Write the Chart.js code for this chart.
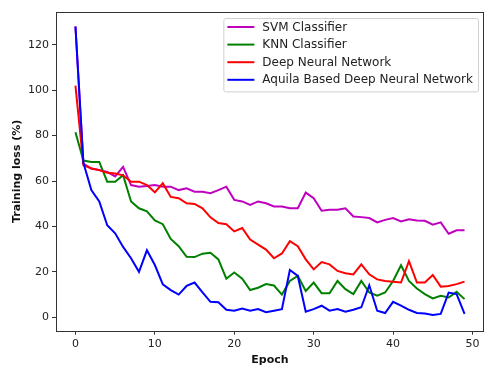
<!DOCTYPE html>
<html>
<head>
<meta charset="utf-8">
<script src="https://cdn.jsdelivr.net/npm/chart.js@4/dist/chart.umd.min.js"></script>
<style>
  html, body { margin: 0; padding: 0; background: #fff; }
  #wrap { width: 489px; height: 367px; position: relative; }
</style>
</head>
<body>
<div id="wrap"><canvas id="chart"></canvas></div>
<script>
// training loss per epoch for each model
const epochs = [0, 1, 2, 3, 4, 5, 6, 7, 8, 9, 10, 11, 12, 13, 14, 15, 16, 17, 18, 19,
  20, 21, 22, 23, 24, 25, 26, 27, 28, 29, 30, 31, 32, 33, 34, 35, 36, 37, 38, 39,
  40, 41, 42, 43, 44, 45, 46, 47, 48, 49];

const svmLoss = [128, 67.7, 65.5, 64.8, 64, 62, 66.2, 58.2, 57.5, 57.8,
  58.2, 57.5, 57.5, 56, 56.8, 55.3, 55.3, 54.6, 56, 57.5,
  51.7, 51, 49.5, 51, 50.2, 48.8, 48.8, 48, 48, 54.9,
  52.4, 46.9, 47.3, 47.3, 48, 44.4, 44.1, 43.7, 41.8, 42.9,
  43.7, 42.2, 43.2, 42.6, 42.5, 40.8, 41.8, 36.8, 38.3, 38.3];

const knnLoss = [81.5, 69, 68.4, 68.4, 59.7, 59.7, 62.5, 51, 48, 46.6,
  42.6, 41, 34.5, 31.3, 26.6, 26.5, 28, 28.4, 25.5, 17,
  19.7, 17, 12, 13, 14.6, 14, 10, 16, 18.2, 11.6,
  15.3, 10.6, 10.6, 16, 12.4, 10.2, 16, 10.9, 9.5, 10.9,
  16, 22.9, 16, 12.7, 10.2, 8.3, 9.5, 8.7, 11.2, 8];

const dnnLoss = [102, 67, 65.5, 64.8, 63.6, 63.3, 62.5, 59.7, 59.7, 58.2,
  55, 59, 53, 52.4, 50.2, 49.9, 48, 44, 41.5, 41,
  37.8, 39.3, 34.2, 32, 29.8, 26, 28.1, 33.5, 31.3, 25.5,
  21.1, 24.3, 23.3, 20.4, 19.4, 18.9, 23.3, 18.9, 16.7, 16,
  15.6, 15.3, 24.7, 15.3, 15.3, 18.6, 13.5, 13.8, 14.6, 15.7];

const aquilaLoss = [128, 68, 56, 51, 40.5, 37, 31, 26, 20, 29.5,
  23, 14.5, 12, 10, 13.8, 15.3, 11, 6.8, 6.6, 3.3,
  2.9, 3.9, 2.9, 3.6, 2.2, 2.9, 3.6, 20.8, 18.2, 2.5,
  3.6, 5.1, 2.9, 3.6, 2.5, 3.3, 4.4, 14.1, 2.9, 1.9,
  6.8, 5.1, 3.3, 1.9, 1.7, 1.0, 1.5, 10.9, 10.2, 1.5];

const seriesNames = ["SVM Classifier", "KNN Classifier", "Deep Neural Network", "Aquila Based Deep Neural Network"];
const seriesColors = ["#bf00bf", "#008000", "#ff0000", "#0000ff"];
const xTicks = [0, 10, 20, 30, 40, 50];
const yTicks = [0, 20, 40, 60, 80, 100, 120];

const FONT = "'DejaVu Sans', sans-serif";

function toPoints(values) {
  return epochs.map((e, i) => ({ x: e, y: values[i] }));
}

const data = {
  datasets: [svmLoss, knnLoss, dnnLoss, aquilaLoss].map((vals, i) => ({
    label: seriesNames[i],
    data: toPoints(vals),
    borderColor: seriesColors[i],
    backgroundColor: seriesColors[i],
    borderWidth: 2,
    pointRadius: 0,
    tension: 0,
    fill: false,
    order: 3 - i   // later series painted on top
  }))
};

// box around the plot + legend in the upper right corner
const frameLegend = {
  id: "frameLegend",
  afterDatasetsDraw(chart) {
    const { ctx, chartArea: a } = chart;
    ctx.save();
    ctx.strokeStyle = "#333";
    ctx.lineWidth = 1;
    ctx.strokeRect(Math.round(a.left) + 0.5, Math.round(a.top) + 0.5,
      Math.round(a.right - a.left) - 1, Math.round(a.bottom - a.top));

    ctx.font = "12px " + FONT;
    let textW = 0;
    chart.data.datasets.forEach(ds => { textW = Math.max(textW, ctx.measureText(ds.label).width); });
    const rowH = 17.6;
    const w = 4 + 27 + 8 + textW + 5;
    const h = 4 * rowH + 3;
    const x0 = a.right - 6 - w;
    const y0 = a.top + 6;

    ctx.fillStyle = "rgba(255,255,255,0.85)";
    ctx.strokeStyle = "#d0d0d0";
    ctx.beginPath();
    ctx.roundRect(x0 + 0.5, y0 + 0.5, w, h, 2);
    ctx.fill();
    ctx.stroke();

    ctx.textBaseline = "middle";
    chart.data.datasets.forEach((ds, i) => {
      const y = y0 + 9 + i * rowH;
      ctx.strokeStyle = ds.borderColor;
      ctx.lineWidth = 2;
      ctx.beginPath();
      ctx.moveTo(x0 + 4, y);
      ctx.lineTo(x0 + 31, y);
      ctx.stroke();
      ctx.fillStyle = "#222";
      ctx.fillText(ds.label, x0 + 39, y + 0.5);
    });
    ctx.restore();
  }
};

new Chart("chart", {
  type: "line",
  data: data,
  plugins: [frameLegend],
  options: {
    responsive: true,
    maintainAspectRatio: false,
    animation: false,
    layout: { padding: { top: 12, right: 5, left: 0, bottom: 0 } },
    plugins: {
      legend: { display: false },
      tooltip: { enabled: false }
    },
    scales: {
      x: {
        type: "linear",
        min: -2.45,
        max: 51.45,
        afterBuildTicks: s => { s.ticks = xTicks.map(v => ({ value: v })); },
        afterFit: s => { s.height = 36.3; },
        border: { display: false },
        grid: { display: true, drawOnChartArea: false, drawTicks: true, tickLength: 4, color: "#333" },
        ticks: { color: "#222", padding: 3, maxRotation: 0, font: { family: FONT, size: 11 } },
        title: {
          display: true,
          text: "Epoch",
          color: "#111",
          padding: { top: 0, bottom: 0 },
          font: { family: FONT, size: 11, weight: "bold" }
        }
      },
      y: {
        min: -5.9,
        max: 134.4,
        afterBuildTicks: s => { s.ticks = yTicks.map(v => ({ value: v })); },
        afterFit: s => { s.width = 56; },
        border: { display: false },
        grid: { display: true, drawOnChartArea: false, drawTicks: true, tickLength: 4, color: "#333" },
        ticks: { color: "#222", padding: 3, font: { family: FONT, size: 11 } },
        title: {
          display: true,
          text: "Training loss (%)",
          color: "#111",
          padding: { top: 11, bottom: 0 },
          font: { family: FONT, size: 11, weight: "bold" }
        }
      }
    }
  }
});
</script>
</body>
</html>
